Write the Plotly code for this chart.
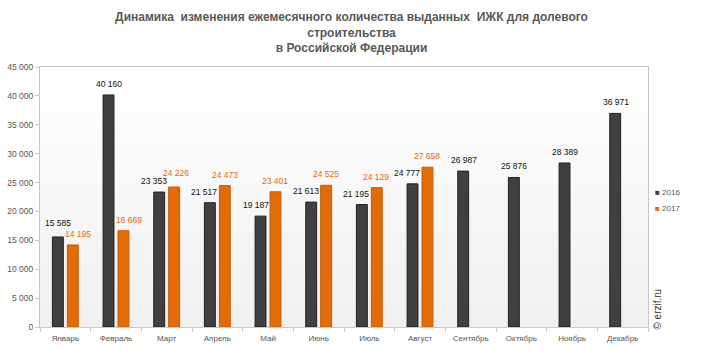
import plotly.graph_objects as go

months = ["Январь", "Февраль", "Март", "Апрель", "Май", "Июнь", "Июль",
          "Август", "Сентябрь", "Октябрь", "Ноябрь", "Декабрь"]
v2016 = [15585, 40160, 23353, 21517, 19187, 21613, 21195, 24777, 26987, 25876, 28389, 36971]
v2017 = [14195, 16669, 24226, 24473, 23401, 24525, 24129, 27658]
ytick_vals = list(range(0, 45001, 5000))

# label nudges (pixels) relative to the category centre, as placed in the original
lbl_dx_2016 = [-7, -7, -13, -13, -12, -13, -13, -13, -7, -7, -7, -7]
lbl_dx_2017 = [13, 13, 9, 8, 7, 7, 7, 7]
lbl_dy_2016 = [7, 4, 4, 4, 4, 4, 4, 4, 4, 4, 4, 4]
lbl_dy_2017 = [4, 4, 7, 4, 4, 4, 4, 4]

def fmt(v):
    return f"{v:,}".replace(",", " ")

FONT = "Liberation Sans, Arial, sans-serif"
C16 = "#404040"
C17 = "#E36C0A"

fig = go.Figure()
fig.add_trace(go.Bar(
    name="2016", x=months, y=v2016, showlegend=False,
    marker=dict(color=C16, line=dict(color="#222222", width=1)),
))
fig.add_trace(go.Bar(
    name="2017", x=months[:len(v2017)], y=v2017, showlegend=False,
    marker=dict(color=C17, line=dict(color="#C85A00", width=1)),
))

annotations = []
for m, v, dx, dy in zip(months, v2016, lbl_dx_2016, lbl_dy_2016):
    annotations.append(dict(x=m, y=v, text=fmt(v), showarrow=False, xshift=dx, yshift=dy,
                            xanchor="center", yanchor="bottom",
                            font=dict(size=8.5, color="#111111", family=FONT)))
for m, v, dx, dy in zip(months, v2017, lbl_dx_2017, lbl_dy_2017):
    annotations.append(dict(x=m, y=v, text=fmt(v), showarrow=False, xshift=dx, yshift=dy,
                            xanchor="center", yanchor="bottom",
                            font=dict(size=8.5, color=C17, family=FONT)))

# legend built as text entries with small square swatches
for name, col, yy in (("2016", C16, 0.519), ("2017", C17, 0.454)):
    annotations.append(dict(xref="paper", yref="paper", x=1.008, y=yy,
                            xanchor="left", yanchor="middle", showarrow=False,
                            text=f"<span style='color:{col}'>■</span> {name}",
                            font=dict(size=8, color="#555555", family=FONT)))

annotations.append(dict(text="© erzif.ru", textangle=-90, xref="paper", yref="paper",
                        x=1.016, y=0.07, xanchor="center", yanchor="middle",
                        showarrow=False, font=dict(size=10, color="#333333", family=FONT)))

# gradient background in plot area
n = 30
shapes = []
for i in range(n):
    t = i / (n - 1)
    c = int(round(255 - 15 * (1 - t)))
    shapes.append(dict(type="rect", xref="paper", yref="paper",
                       x0=0, x1=1, y0=i / n, y1=(i + 1) / n,
                       fillcolor=f"rgb({c},{c},{c})", line=dict(width=0),
                       layer="below"))

fig.update_layout(
    width=703, height=350,
    margin=dict(l=40, r=55, t=67, b=23),
    paper_bgcolor="white", plot_bgcolor="white",
    barmode="group", bargap=0.41, bargroupgap=0.27,
    shapes=shapes,
    showlegend=False,
    font=dict(family=FONT, color="#555555", size=8),
    title=dict(
        text="<b>Динамика  изменения ежемесячного количества выданных  ИЖК для долевого<br>строительства<br>в Российской Федерации</b>",
        x=0.5, xanchor="center", xref="container",
        y=0.94, yanchor="top", yref="container",
        font=dict(size=12, color="#595959", family=FONT),
    ),
    xaxis=dict(showline=True, linecolor="#c8c8c8", mirror=True, automargin=False,
               ticks="outside", tickson="boundaries", ticklen=4, tickcolor="#c8c8c8",
               ticklabelstandoff=3,
               tickfont=dict(size=8, color="#555555"), showgrid=False),
    yaxis=dict(range=[0, 45000], tickvals=ytick_vals, automargin=False,
               ticktext=[fmt(v) for v in ytick_vals],
               showline=True, linecolor="#c8c8c8", mirror=True,
               ticks="outside", ticklen=4, tickcolor="#c8c8c8",
               tickfont=dict(size=8.5, color="#555555"), showgrid=False,
               zeroline=False),
    annotations=annotations,
)

fig.write_html("out.html")
